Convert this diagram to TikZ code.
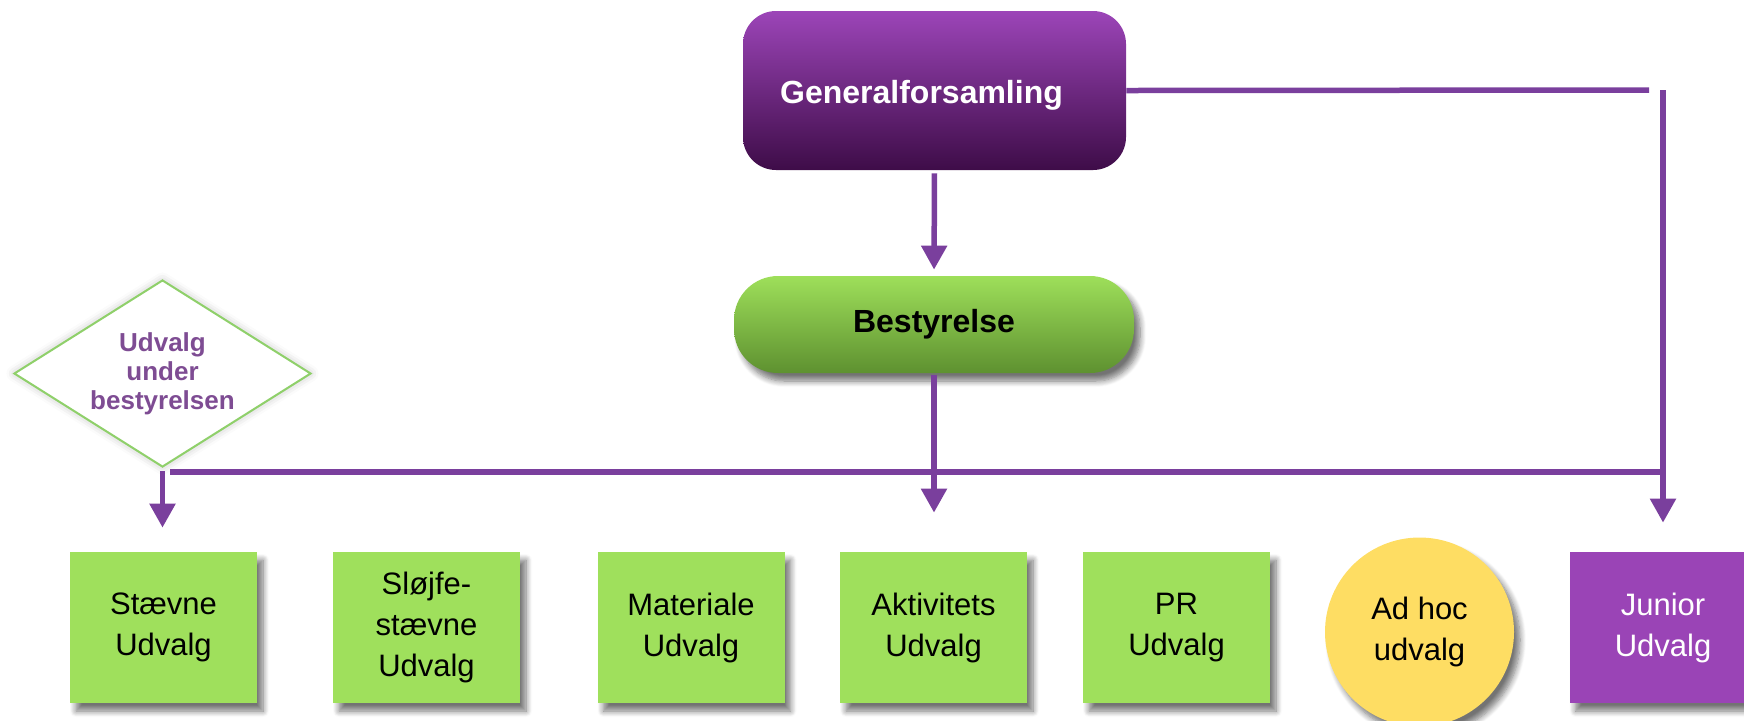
\documentclass[tikz,border=0pt]{standalone}
\usepackage{fontspec}
\setmainfont{Liberation Sans}
\usepackage{xcolor}
\usetikzlibrary{arrows.meta,shapes.geometric,shadows.blur}

\definecolor{linepurple}{HTML}{7A3F9D}
\definecolor{boxgreen}{HTML}{9FE05C}
\definecolor{junpurple}{HTML}{9A44B6}
\definecolor{adyellow}{HTML}{FEDD63}
\definecolor{gentop}{HTML}{9C45B8}
\definecolor{genbot}{HTML}{3E0C48}
\definecolor{besttop}{HTML}{9EDF5A}
\definecolor{bestbot}{HTML}{5E9130}
\definecolor{diagreen}{HTML}{8FD06A}
\definecolor{diatext}{HTML}{7E4C93}

\begin{document}
\begin{tikzpicture}[x=0.5pt, y=-0.5pt, >={Triangle[width=12.5pt,length=12pt]},
    link/.style={draw=linepurple, line width=2.75pt},
    dropshadow/.style={blur shadow={shadow xshift=3pt, shadow yshift=-4pt, shadow opacity=55, shadow blur radius=3pt, shadow blur steps=8}},
    udvalg/.style={rectangle, fill=boxgreen, minimum width=93.5pt, minimum height=75.5pt, inner sep=0pt, align=center, font=\fontsize{15.5pt}{20.5pt}\selectfont, dropshadow}]

    \useasboundingbox (0,0) rectangle (1744,720);

    \node (gen) at (934.5,90.5) [rectangle, rounded corners=16.5pt, top color=gentop, bottom color=genbot, minimum width=191.5pt, minimum height=79.5pt] {};
    \node at ([xshift=-6.5pt, yshift=-2.5pt]gen.center) [text=white, font=\fontsize{16pt}{19pt}\selectfont\bfseries] {Generalforsamling};

    \node (best) at (934,324.5) [rectangle, rounded corners=22pt, top color=besttop, bottom color=bestbot, minimum width=200pt, minimum height=48.5pt, font=\fontsize{16pt}{19pt}\selectfont\bfseries, dropshadow] {Bestyrelse};

    \node (dia) at (162.5,373.5) [diamond, aspect=1.6, draw=diagreen, line width=1pt, fill=white, minimum width=148.5pt, minimum height=93.5pt, inner sep=0pt, align=center, text=diatext, font=\fontsize{13pt}{14.5pt}\selectfont\bfseries, blur shadow={shadow xshift=0pt, shadow yshift=0pt, shadow opacity=25, shadow blur radius=4pt}] {Udvalg\\under\\bestyrelsen};

    \node (stv) at (163.5,627.5) [udvalg] {Stævne\\Udvalg};
    \node (slf) at (426.5,627.5) [udvalg] {Sløjfe-\\stævne\\Udvalg};
    \node (mat) at (691,627.5) [udvalg] {Materiale\\Udvalg};
    \node (akt) at (933.5,627.5) [udvalg] {Aktivitets\\Udvalg};
    \node (pr) at (1176.5,627.5) [udvalg] {PR\\Udvalg};
    \node (adhoc) at (1419.5,632) [circle, fill=adyellow, minimum size=94.5pt, inner sep=0pt, align=center, font=\fontsize{15.5pt}{20.5pt}\selectfont, dropshadow] {Ad hoc\\udvalg};
    \node (jun) at (1663,627.5) [udvalg, fill=junpurple, text=white] {Junior\\Udvalg};

    \coordinate (jtop) at (1663,90);
    \coordinate (busL) at (170,472);

    \draw[link, ->, shorten <=1.5pt, shorten >=3pt] (gen.south) -- (best.north);
    \draw[link] (gen.east) -- ([xshift=-7pt]jtop);
    \draw[link, ->, shorten >=14.5pt] (jtop) -- (jun.north);
    \draw[link] (busL) -- (jtop |- busL);
    \draw[link, ->, shorten <=1pt, shorten >=19.5pt] (best.south) -- (best.south |- akt.north);
    \draw[link, ->, shorten <=1.5pt, shorten >=12pt] (dia.south) -- (dia.south |- stv.north);

\end{tikzpicture}
\end{document}
